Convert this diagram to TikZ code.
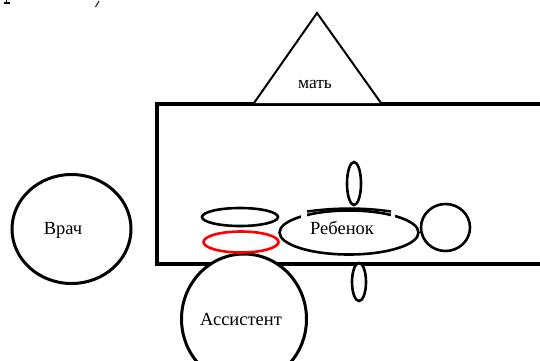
\documentclass[tikz,border=0pt]{standalone}
\usepackage{fontspec}
\setmainfont{Liberation Serif}
\usetikzlibrary{shapes.geometric}
\tikzset{
  shape line/.style={draw=black, line width=2.6pt},
  oval/.style={shape line, ellipse, inner sep=0pt, fill=white},
  lbl/.style={inner sep=0pt, font=\fontsize{18.5}{22}\selectfont},
}
\begin{document}
\begin{tikzpicture}[x=1pt,y=-1pt]
\useasboundingbox (0,0) rectangle (540,360);
\clip (0,0) rectangle (540,360);
\fill[white] (0,0) rectangle (540,360);
% cut-off text fragments at top
\fill[black] (4,2.2) rectangle (10,3.6);
\draw[line width=1.4pt] (6.5,0) -- (6.5,3);
\draw[line width=1.2pt, black!80] (95.5,7) -- (99,1);
% room
\draw[line width=4pt] (545,103.5) -- (157,103.5) -- (157,264) -- (545,264);
% mother triangle
\draw[line width=2pt, fill=white, line join=miter] (254,103) -- (317,13) -- (381,103);
\node[lbl, font=\fontsize{17.5}{21}\selectfont] (mat) at (315,84) {мать};
% doctor
\node[oval, line width=3pt, minimum width=119pt, minimum height=109pt] (vrach) at (71.5,229) {};
\node[lbl] at (63,230) {Врач};
% assistant
\node[oval, line width=3pt, minimum width=125pt, minimum height=130pt] (assist) at (244,319) {};
\node[lbl] at (241,319) {Ассистент};
% hands of assistant
\node[oval, minimum width=76pt, minimum height=18pt] (ruka1) at (240,217) {};
\node[oval, draw=red, minimum width=75pt, minimum height=21pt] (ruka2) at (241,242) {};
% child
\node[oval, minimum width=139pt, minimum height=44pt] (rebenok) at (349,232.5) {};
\fill[white] (301,211) rectangle (307,219);
\fill[white] (391,211) rectangle (395,219);
\draw[line width=2.4pt] (307,211.5) .. controls (335,207.5) and (365,207.5) .. (391,211.5);
\node[lbl] at (342,228) {Ребенок};
\node[oval, minimum width=49pt, minimum height=47pt] (golova) at (445.5,227.5) {};
\node[oval, minimum width=14pt, minimum height=43pt] (ruka3) at (354,183.5) {};
\node[oval, minimum width=14pt, minimum height=38pt] (noga) at (359,282) {};
\end{tikzpicture}
\end{document}
